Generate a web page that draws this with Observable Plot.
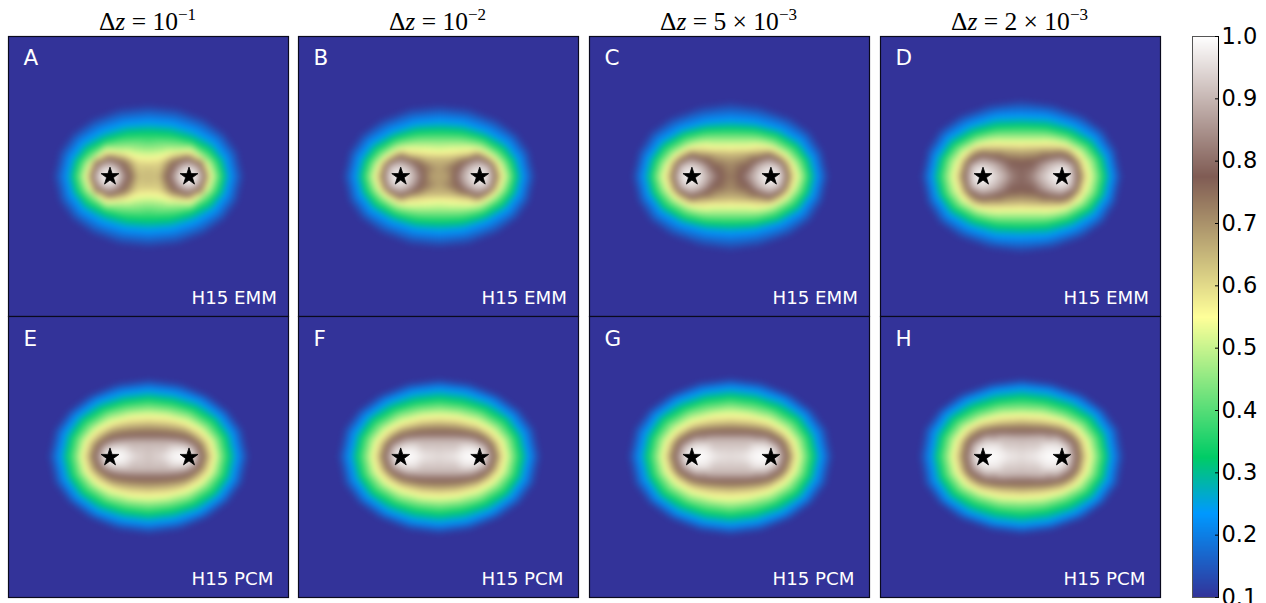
<!DOCTYPE html>
<html><head><meta charset="utf-8">
<script src="https://cdn.jsdelivr.net/npm/d3@7"></script>
<script src="https://cdn.jsdelivr.net/npm/@observablehq/plot@0.6"></script>
<style>
html,body{margin:0;padding:0;background:#fff;overflow:hidden;width:1266px;height:603px}
#root{position:relative;width:1266px;height:603px;overflow:hidden}
.t{position:absolute;width:281px;text-align:center;font-family:"Liberation Serif",serif;font-size:25.5px;line-height:26px;white-space:nowrap;color:#000}
.t sup{font-size:17px;line-height:0;position:relative;top:-1px}
.t i{font-style:italic}
</style></head><body><div id="root"></div>
<script>
// colour stops of the bar
const colorStops=[0.1,0.235,0.325,0.55,0.775,1];
const colorRange=["#333399","#0099ff","#00cc66","#ffff99","#805c54","#ffffff"];
const barTicks=[0.1,0.2,0.3,0.4,0.5,0.6,0.7,0.8,0.9,1.0];
const starX=[-38.5,40.5];
const starY=[0,0.8];
const panelLetters=["A","B","C","D","E","F","G","H"];
const panelTags=["H15 EMM","H15 EMM","H15 EMM","H15 EMM","H15 PCM","H15 PCM","H15 PCM","H15 PCM"];
const titleExps=[["","\u22121"],["","\u22122"],["5 \u00d7 ","\u22123"],["2 \u00d7 ","\u22123"]];
// each row: level, then x,y pairs of that level's contour in one quadrant
const fieldA=[
[0.1, 96,0,90,26,77,44,56,59,29,69,0,72],
[0.235, 81,0,77,18,66,33,46,45,24,52,0,54],
[0.325, 75,0,71,15,61,27,42,37,20,43,0,44],
[0.45, 68,0,63,14,52,23,36,30,18,31,0,29],
[0.55, 62,0,58,12,48,20,36,24,22,23,10,19,0,18],
[0.65, 59,0,55,12,44,20,30,20],
[0.775, 57,0,53,13,40,19,27,14,19,0],
[0.9, 53,0,49,9,40,13,31,9,27,0],
[0.97, 47,0,40,7,33,0],
[1, 40,0],
[0.64, 0,0,10,0,0,6],
[0.6, 0,14,12,15],
[0.7, 14,0]];
const fieldB=[
[0.1, 97,0,91,26,79,43,58,58,29,69,0,72],
[0.235, 83,0,79,18,68,33,48,45,24,53,0,55],
[0.325, 77,0,73,15,63,28,44,39,22,45,0,46],
[0.45, 70,0,65,14,56,23,40,32,20,35,0,35],
[0.55, 64,0,60,12,50,21,36,27,20,26,0,24],
[0.65, 60,0,56,12,44,21,28,20,14,18,0,18],
[0.775, 55,0,50,14,40,20,28,16,19,10,15,0],
[0.9, 53,0,50,10,40,14,30,10,25,0],
[0.97, 46,0,40,6,34,0],
[1, 40,0],
[0.68, 0,0,0,8,8,0]];
const fieldC=[
[0.1, 99,0,93,26,81,45,60,60,29,71,0,75],
[0.235, 86,0,82,18,70,35,50,47,25,54,0,56],
[0.325, 80,0,76,16,66,30,46,42,24,47,0,48],
[0.45, 73,0,68,14,58,25,42,34,20,38,0,38],
[0.55, 66,0,62,12,52,23,38,29,20,29,0,29],
[0.65, 61,0,57,13,46,22,30,24,14,23,0,22],
[0.775, 56,0,51,14,40,21,27,17,17,10,9,0],
[0.9, 54,0,50,11,40,15,29,11,23,0],
[0.97, 47,0,40,7,32,0],
[1, 40,0],
[0.74, 0,0,5,0],
[0.7, 0,14]];
const fieldD=[
[0.1, 101,0,95,28,83,47,62,62,31,73,0,77],
[0.235, 89,0,85,20,73,38,52,51,26,59,0,60],
[0.325, 83,0,79,18,69,32,48,44,24,50,0,51],
[0.45, 75,0,71,16,61,28,44,37,22,41,0,41],
[0.55, 67,0,63,14,54,25,38,32,20,33,0,33],
[0.65, 62,0,58,14,48,25,32,27,16,27,0,26],
[0.775, 57,0,52,15,40,22,26,20,12,15,0,14],
[0.9, 52,0,50,11,40,15,28,12,18,0],
[0.97, 47,0,40,8,30,0],
[1, 40,0],
[0.79, 0,0],
[0.82, 8,0]];
const fieldE=[
[0.1, 101,0,95,27,81,46,60,62,31,74,0,78],
[0.235, 88,0,83,23,71,40,50,55,26,63,0,66],
[0.325, 81,0,77,19,65,36,46,48,24,55,0,58],
[0.45, 72,0,68,17,57,30,40,41,20,46,0,48],
[0.55, 66,0,62,15,52,26,36,34,18,39,0,40],
[0.65, 60,0,56,13,46,22,30,29,15,31,0,32],
[0.775, 54,0,50,11,40,18,26,21,12,22,0,22],
[0.9, 48,0,44,9,34,13,20,14,0,14],
[0.97, 44,0,38,7,26,7,18,0],
[1, 30,0,38,0],
[0.92, 0,0],[0.94, 10,0]];
const fieldF=[
[0.1, 102,0,96,28,82,47,61,62,31,74,0,78],
[0.235, 89,0,84,23,72,40,51,55,26,64,0,67],
[0.325, 82,0,78,19,66,36,46,48,24,55,0,58],
[0.45, 73,0,69,17,58,30,40,41,20,46,0,48],
[0.55, 66,0,62,15,52,26,36,34,18,39,0,40],
[0.65, 60,0,56,13,47,22,30,29,15,32,0,33],
[0.775, 55,0,51,12,41,19,26,23,12,24,0,24],
[0.9, 49,0,45,10,34,15,20,16,0,16],
[0.97, 44,0,38,8,26,9,16,0],
[1, 28,0,38,0],
[0.95, 0,0],[0.96, 8,0]];
const fieldG=[
[0.1, 103,0,97,28,83,47,61,63,31,75,0,79],
[0.235, 90,0,85,23,73,41,52,56,26,65,0,68],
[0.325, 83,0,79,19,67,37,47,49,24,57,0,60],
[0.45, 74,0,70,17,59,31,41,42,21,47,0,50],
[0.55, 67,0,63,15,53,26,37,35,18,40,0,41],
[0.65, 62,0,58,13,48,23,31,30,15,32,0,33],
[0.775, 56,0,52,13,42,20,27,24,12,25,0,25],
[0.9, 50,0,46,10,35,16,20,17,0,17],
[0.97, 45,0,38,9,26,10,15,0],
[1, 28,0,38,0],
[0.955, 0,0],[0.96, 8,0]];
const fieldH=[
[0.1, 103,0,98,28,84,47,62,63,31,74,0,78],
[0.235, 90,0,86,24,74,42,53,56,27,65,0,68],
[0.325, 84,0,80,20,68,37,48,49,25,56,0,59],
[0.45, 75,0,71,18,60,32,42,41,21,47,0,48],
[0.55, 68,0,64,16,54,28,38,36,19,40,0,41],
[0.65, 62,0,59,14,49,25,32,31,16,33,0,34],
[0.775, 56,0,53,14,43,22,28,26,13,26,0,26],
[0.9, 50,0,47,11,36,18,20,19,0,18],
[0.97, 45,0,39,10,26,11,12,0],
[1, 28,0,38,0],
[0.955, 0,0],[0.965, 6,0]];
const fields=[fieldA,fieldB,fieldC,fieldD,fieldE,fieldF,fieldG,fieldH];
const background=[0.1, 141,0,141,141,0,141,120,72,72,108,115,0,0,95];

const colLeft=[8,298,589,880];
const colShift=[0,0.7,0.9,1];
const rowTop=[36,316];
const rowHeight=[280,281];
const color={type:"linear",domain:colorStops,range:colorRange,clamp:true};
const root=document.getElementById("root");
function place(svg,l,t){svg.style.position="absolute";svg.style.left=l+"px";svg.style.top=t+"px";root.appendChild(svg);}
function points(rows){
  const seen=new Set(),out=[];
  for(const row of [background,...rows]){
    const v=row[0];
    for(let i=1;i<row.length;i+=2){
      for(const sx of [1,-1])for(const sy of [1,-1]){
        const x=sx*row[i],y=sy*row[i+1],k=x+","+y;
        if(!seen.has(k)){seen.add(k);out.push({x,y,v});}
      }
    }
  }
  return out;
}
fields.forEach((rows,i)=>{
  const col=i%4,row=i<4?0:1;
  const fig=Plot.plot({
    width:280,height:rowHeight[row],margin:0,
    style:{fontFamily:"DejaVu Sans",background:"transparent",overflow:"visible"},
    x:{domain:[-140-colShift[col],140-colShift[col]],axis:null},
    y:{domain:row?[141,-140]:[140,-140],axis:null},
    color,
    marks:[
      Plot.raster(points(rows),{x:"x",y:"y",fill:"v",interpolate:"barycentric",pixelSize:1,blur:2.5}),
      Plot.dot(starX,{x:d=>d,y:()=>starY[row],symbol:"star",r:5.6,fill:"black",stroke:"black",strokeWidth:0.8}),
      Plot.text([panelLetters[i]],{frameAnchor:"top-left",dx:15,dy:row?14:13,fill:"white",fontSize:21.5,lineAnchor:"top",textAnchor:"start"}),
      Plot.text([panelTags[i]],{frameAnchor:"bottom-left",dx:183,dy:-13,fill:"white",fontSize:18.2,lineAnchor:"bottom",textAnchor:"start"}),
      Plot.frame({stroke:"#0a0a1e",strokeWidth:1.2})
    ]
  });
  place(fig,colLeft[col],rowTop[row]);
});
titleExps.forEach((e,i)=>{
  const d=document.createElement("div");d.className="t";
  d.style.left=(colLeft[i]-1)+"px";d.style.top="9px";
  d.innerHTML="\u0394<i>z</i> = "+e[0]+"10<sup>"+e[1]+"</sup>";
  root.appendChild(d);
});
const bar=Plot.plot({
  width:74,height:591,marginLeft:0,marginRight:48,marginTop:15,marginBottom:15,
  style:{fontFamily:"DejaVu Sans",background:"transparent",overflow:"visible"},
  x:{domain:[0,1],axis:null},
  y:{domain:[0.1,1],axis:null},
  color,
  marks:[
    Plot.raster({fill:(x,y)=>y,x1:0,x2:1,y1:0.1,y2:1,pixelSize:1}),
    Plot.frame({stroke:"#555",strokeWidth:1}),
    Plot.ruleX([1],{stroke:"black"}),
    Plot.axisY(barTicks,{anchor:"right",tickSize:-4,tickPadding:7,tickFormat:d=>d.toFixed(1),fontSize:22.5,fill:"black",stroke:"black"})
  ]
});
place(bar,1192,21);
</script></body></html>
